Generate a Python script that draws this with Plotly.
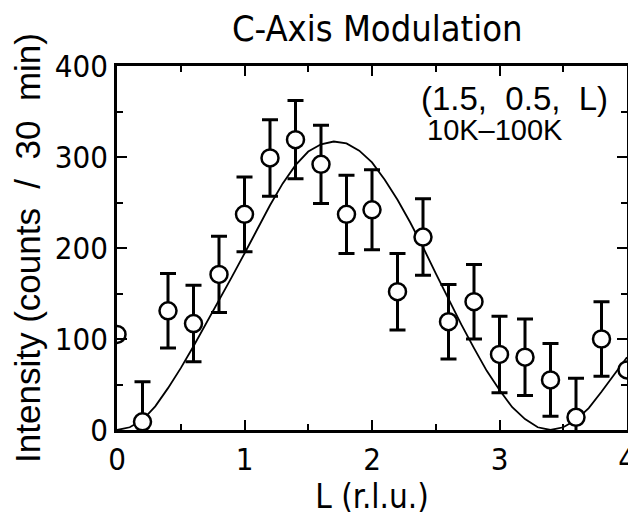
import plotly.graph_objects as go

# Measured data points (L in r.l.u., intensity in counts / 30 min)
L_data = [0.0, 0.2, 0.4, 0.6, 0.8, 1.0, 1.2, 1.4, 1.6, 1.8, 2.0,
          2.2, 2.4, 2.6, 2.8, 3.0, 3.2, 3.4, 3.6, 3.8, 4.0]
intensity = [105, 9, 131, 117, 171, 237, 299, 319, 292, 237, 242,
             152, 212, 119, 141, 83, 80, 55, 14, 100, 66]
errors = [None, 44, 41, 42, 42, 41, 42, 43, 43, 43, 44,
          42, 42, 41, 41, 42, 42, 40, 43, 41, None]

# Fit curve
L_fit = [0.0, 0.1, 0.2, 0.3, 0.4, 0.5, 0.6, 0.7, 0.8, 0.9, 1.0,
         1.1, 1.2, 1.3, 1.4, 1.5, 1.6, 1.7, 1.8, 1.9, 2.0,
         2.1, 2.2, 2.3, 2.4, 2.5, 2.6, 2.7, 2.8, 2.9, 3.0,
         3.1, 3.2, 3.3, 3.4, 3.5, 3.6, 3.7, 3.8, 3.9, 4.0]
I_fit = [0, 3, 11, 26, 46, 68, 92, 117, 143, 168, 194,
         221, 247, 271, 291, 306, 314, 317, 315, 307, 294,
         275, 253, 228, 201, 172, 144, 116, 90, 65, 44,
         25, 12, 3, 0, 3, 11, 24, 42, 61, 80]

x_ticks = [0, 1, 2, 3, 4]
y_ticks = [0, 100, 200, 300, 400]

title_text = "C-Axis Modulation"
x_title = "L (r.l.u.)"
y_title = "Intensity (counts  /  30  min)"
note_line1 = "(1.5,  0.5,  L)"
note_line2 = "10K\u2013100K"

condensed = "DejaVu Sans Condensed, DejaVu Sans, sans-serif"
regular = "Liberation Sans, Arial, sans-serif"

fig = go.Figure()
fig.add_trace(go.Scatter(x=L_fit, y=I_fit, mode="lines",
                         line=dict(color="black", width=1.8),
                         hoverinfo="skip", showlegend=False))
fig.add_trace(go.Scatter(
    x=L_data, y=intensity, mode="markers",
    marker=dict(symbol="circle", size=17, color="white",
                line=dict(color="black", width=2.5)),
    error_y=dict(type="data", array=errors, visible=True,
                 color="black", thickness=3, width=8),
    showlegend=False))

axis_common = dict(
    showline=True, linecolor="black", linewidth=2.5, mirror="allticks",
    ticks="inside", ticklen=10, tickwidth=2, tickcolor="black",
    showgrid=False, zeroline=False, automargin=False,
    tickfont=dict(family=condensed, size=31, color="black"),
)

fig.update_xaxes(range=[0, 4], tickvals=x_ticks, ticktext=[str(v) for v in x_ticks],
                 minor=dict(dtick=0.5, ticks="inside", ticklen=6, tickwidth=2,
                            tickcolor="black", showgrid=False),
                 title=dict(text=x_title, font=dict(family=condensed, size=33, color="black"),
                            standoff=0),
                 **axis_common)
fig.update_yaxes(range=[0, 400], tickvals=y_ticks, ticktext=[str(v) for v in y_ticks],
                 minor=dict(dtick=50, ticks="inside", ticklen=6, tickwidth=2,
                            tickcolor="black", showgrid=False),
                 title=dict(text=y_title, font=dict(family=regular, size=35, color="black"),
                            standoff=10),
                 **axis_common)

fig.add_annotation(x=0.593, y=0.91, xref="paper", yref="paper",
                   xanchor="left", yanchor="middle", align="left",
                   text=note_line1, showarrow=False,
                   font=dict(family=regular, size=33, color="black"))
fig.add_annotation(x=0.603, y=0.825, xref="paper", yref="paper",
                   xanchor="left", yanchor="middle", align="left",
                   text=note_line2, showarrow=False,
                   font=dict(family=regular, size=29, color="black"))

# The page body adds an 8 px offset; the figure size and margins compensate for it
fig.update_layout(
    width=628, height=509,
    margin=dict(l=109, r=9, t=58, b=87),
    paper_bgcolor="white", plot_bgcolor="white",
    title=dict(text=title_text, x=0.588, xanchor="center", y=0.96, yanchor="middle",
               font=dict(family=condensed, size=36, color="black")),
)

fig.write_html("out.html")
